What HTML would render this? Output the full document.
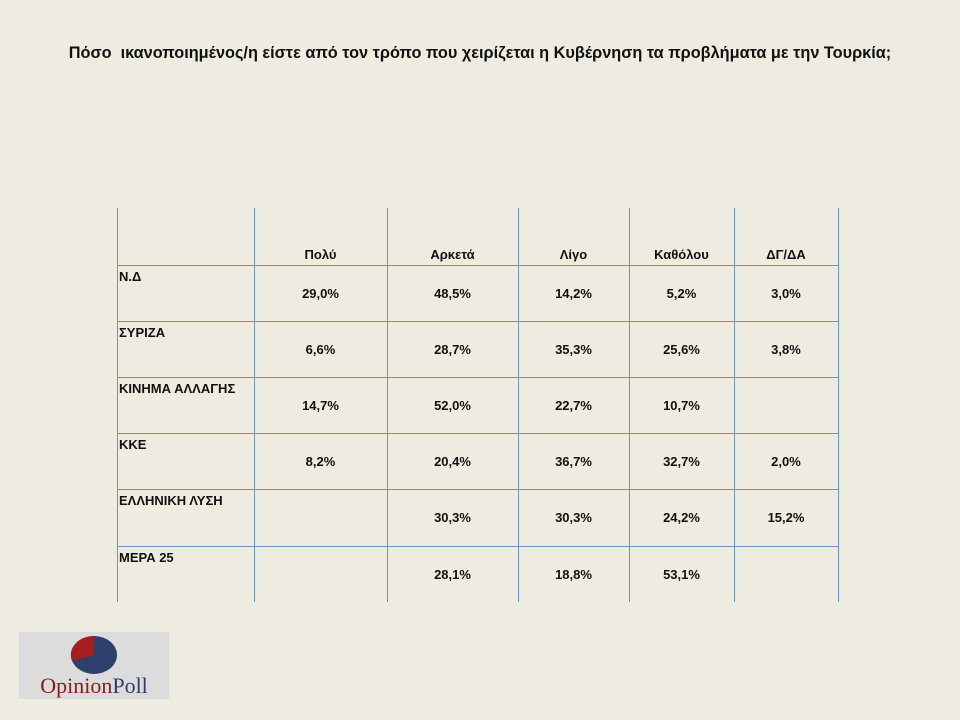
<!DOCTYPE html>
<html><head><meta charset="utf-8"><style>
body{margin:0;width:960px;height:720px;background:#EEEBE1;position:relative;overflow:hidden;font-family:"Liberation Sans","DejaVu Sans",sans-serif;}
.t{position:absolute;left:0;width:960px;top:44px;text-align:center;font-size:16.3px;font-weight:bold;color:#111;white-space:nowrap;}
.v{position:absolute;width:1px;background:#6C93C4;top:208px;height:394px;}
.h{position:absolute;height:1px;background:#6C93C4;left:117px;width:721px;}
.c{position:absolute;font-size:13px;font-weight:bold;color:#111;text-align:center;}
.l{position:absolute;left:119px;font-size:13px;font-weight:bold;color:#111;}
</style></head><body>
<div class="t">Πόσο&nbsp; ικανοποιημένος/η είστε από τον τρόπο που χειρίζεται η Κυβέρνηση τα προβλήματα με την Τουρκία;</div>
<div class="v" style="left:117px"></div><div class="v" style="left:254px"></div><div class="v" style="left:387px"></div><div class="v" style="left:518px"></div><div class="v" style="left:629px"></div><div class="v" style="left:734px"></div><div class="v" style="left:838px"></div>
<div class="h" style="top:265px"></div><div class="h" style="top:321px"></div><div class="h" style="top:377px"></div><div class="h" style="top:433px"></div><div class="h" style="top:489px"></div><div class="h" style="top:546px"></div>
<div id="g"></div>
<script>
var xs=[254,387,518,629,734,838];
var hd=["Πολύ","Αρκετά","Λίγο","Καθόλου","ΔΓ/ΔΑ"];
var rows=[["Ν.Δ",["29,0%","48,5%","14,2%","5,2%","3,0%"]],["ΣΥΡΙΖΑ",["6,6%","28,7%","35,3%","25,6%","3,8%"]],["ΚΙΝΗΜΑ ΑΛΛΑΓΗΣ",["14,7%","52,0%","22,7%","10,7%",""]],["ΚΚΕ",["8,2%","20,4%","36,7%","32,7%","2,0%"]],["ΕΛΛΗΝΙΚΗ ΛΥΣΗ",["","30,3%","30,3%","24,2%","15,2%"]],["ΜΕΡΑ 25",["","28,1%","18,8%","53,1%",""]]];
var tops=[265,321,377,433,489,546];
var h="";
for(var i=0;i<5;i++)h+='<div class="c" style="left:'+xs[i]+'px;width:'+(xs[i+1]-xs[i])+'px;top:247px">'+hd[i]+'</div>';
rows.forEach(function(r,j){var t=tops[j];h+='<div class="l" style="top:'+(t+4)+'px">'+r[0]+'</div>';
for(var i=0;i<5;i++)h+='<div class="c" style="left:'+xs[i]+'px;width:'+(xs[i+1]-xs[i])+'px;top:'+(t+21)+'px">'+r[1][i]+'</div>';});
document.getElementById("g").innerHTML=h;
</script>
<div style="position:absolute;left:19px;top:632px;width:150px;height:67px;background:#DCDCDC;"></div>
<svg style="position:absolute;left:19px;top:632px" width="150" height="67">
<ellipse cx="75" cy="23" rx="23" ry="19" fill="#2E3F6B"/>
<path d="M75 23 L75 4 A23 19 0 0 0 53 29 Z" fill="#A81E1E"/>
<text x="75" y="61" text-anchor="middle" font-family="Liberation Serif,serif" font-size="22" fill="#8B1A1A">Opinion<tspan fill="#2E3F6B">Poll</tspan></text>
</svg>
</body></html>
